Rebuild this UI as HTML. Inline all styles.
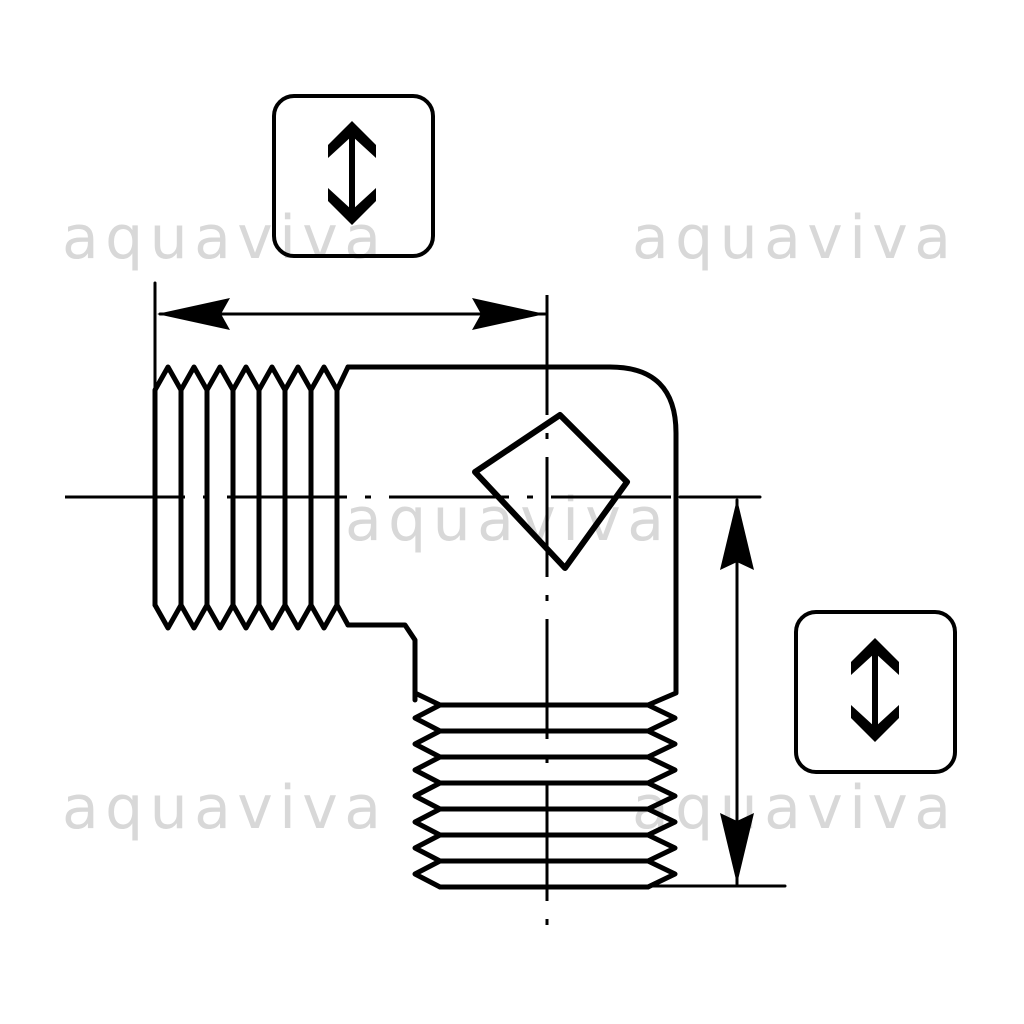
<!DOCTYPE html>
<html><head><style>html,body{margin:0;padding:0;background:#fff}svg{display:block}</style></head>
<body>
<svg width="1024" height="1024" viewBox="0 0 1024 1024" xmlns="http://www.w3.org/2000/svg">
<g font-family="DejaVu Sans, sans-serif" font-size="60" fill="#d8d8d8" letter-spacing="9">
<text x="62" y="258" textLength="328" lengthAdjust="spacing">aquaviva</text>
<text x="632" y="258" textLength="328" lengthAdjust="spacing">aquaviva</text>
<text x="345" y="540" textLength="328" lengthAdjust="spacing">aquaviva</text>
<text x="62" y="828" textLength="328" lengthAdjust="spacing">aquaviva</text>
<text x="632" y="828" textLength="328" lengthAdjust="spacing">aquaviva</text>
</g>
<g fill="none" stroke="#000" stroke-linejoin="round" stroke-linecap="round">
<path d="M65 497H760" stroke-width="3" stroke-dasharray="120 18 6 18" stroke-linecap="butt"/>
<path d="M547 295V930" stroke-width="3" stroke-dasharray="120 18 6 18" stroke-linecap="butt"/>
<path d="M155 283V390" stroke-width="3"/>
<path d="M160 314H545" stroke-width="3"/>
<path d="M737 500V884" stroke-width="3"/>
<path d="M650 886H785" stroke-width="3"/>
<path d="M680 497H760" stroke-width="3"/>
<path d="M348 367H610Q676 367 676 433V693L648 705M415 700V640L405 625H348" stroke-width="5"/>
<path d="M415 693L440 705" stroke-width="5"/>
<path d="M155 605V390L168 367L181 390L194 367L207 390L220 367L233 390L246 367L259 390L272 367L285 390L298 367L311 390L324 367L337 390L348 367" stroke-width="5"/>
<path d="M155 605L168 628L181 605L194 628L207 605L220 628L233 605L246 628L259 605L272 628L285 605L298 628L311 605L324 628L337 605L348 625" stroke-width="5"/>
<path d="M181 390V605M207 390V605M233 390V605M259 390V605M285 390V605M311 390V605M337 390V605" stroke-width="5"/>
<path d="M440 705L415 718L440 731L415 744L440 757L415 770L440 783L415 796L440 809L415 822L440 835L415 848L440 861L415 874L440 887" stroke-width="5"/>
<path d="M648 705L675 718L648 731L675 744L648 757L675 770L648 783L675 796L648 809L675 822L648 835L675 848L648 861L675 874L648 887" stroke-width="5"/>
<path d="M440 705H648M440 731H648M440 757H648M440 783H648M440 809H648M440 835H648M440 861H648M440 887H648" stroke-width="5"/>
<path d="M475 472L560 415L627 482L565 568Z" stroke-width="6"/>
<rect x="274" y="96" width="159" height="160" rx="20" stroke-width="4"/>
<rect x="796" y="612" width="159" height="160" rx="20" stroke-width="4"/>
<path d="M352 128V218" stroke-width="6"/>
<path d="M875 645V735" stroke-width="6"/>
</g>
<g fill="#000">
<path d="M157 314L230 298L221 314L230 330Z"/>
<path d="M545 314L472 298L481 314L472 330Z"/>
<path d="M737 499L720 570L737 562L754 570Z"/>
<path d="M737 884L720 813L737 821L754 813Z"/>
<path d="M352 121L376 145V158L352 136L328 158V145Z"/>
<path d="M352 225L376 201V188L352 210L328 188V201Z"/>
<path d="M875 638L899 662V675L875 653L851 675V662Z"/>
<path d="M875 742L899 718V705L875 727L851 705V718Z"/>
</g>
</svg>
</body></html>
